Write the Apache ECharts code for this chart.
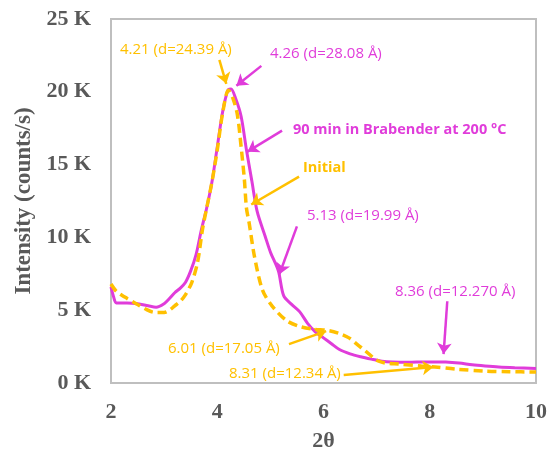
<!DOCTYPE html>
<html>
<head>
<meta charset="utf-8">
<script src="https://cdn.jsdelivr.net/npm/echarts@6/dist/echarts.min.js"></script>
<style>html,body{margin:0;padding:0;background:#fff;}#c{width:550px;height:457px;}</style>
</head>
<body>
<div id="c"></div>
<script>
// 2θ positions and intensities (counts/s)
var xBrab = [2.0,2.05,2.1,2.3,2.5,2.7,2.85,3.0,3.1,3.2,3.3,3.4,3.5,3.6,3.7,3.8,3.9,4.0,4.1,4.2,4.26,4.35,4.45,4.55,4.65,4.75,4.9,5.0,5.15,5.25,5.4,5.55,5.7,5.85,6.0,6.15,6.3,6.5,6.7,6.9,7.1,7.3,7.6,7.9,8.1,8.3,8.55,8.8,9.04,9.3,9.6,10.0];
var yBrab = [6600,5900,5500,5500,5450,5300,5200,5450,5800,6200,6500,6900,7700,8800,10500,12000,13800,16200,18600,20100,20200,19500,18300,16000,13900,11800,10100,9000,7700,6000,5400,4900,4100,3500,3100,2700,2300,2000,1800,1640,1500,1440,1420,1450,1450,1440,1370,1250,1170,1100,1050,1000];
var xInit = [2.0,2.1,2.26,2.45,2.64,2.82,3.0,3.1,3.2,3.3,3.39,3.52,3.63,3.72,3.8,3.9,4.0,4.1,4.21,4.3,4.38,4.45,4.51,4.55,4.6,4.7,4.85,5.03,5.3,5.54,5.8,6.1,6.3,6.48,6.65,6.79,6.95,7.04,7.2,7.41,7.84,8.1,8.5,9.04,9.5,10.0];
var yInit = [6800,6300,5900,5500,5100,4850,4850,5000,5300,5600,6000,6900,8300,10500,12000,13800,16000,18500,20100,19500,18400,16200,14000,12000,11000,8700,6400,5300,4300,3900,3700,3600,3400,3100,2600,2200,1700,1500,1350,1300,1170,1100,950,820,780,750];
var xTicks = [2,4,6,8,10];
var yTicks = [0,5000,10000,15000,20000,25000];

var MAG = '#E03CDA', ORA = '#FFC000';
function zip(a,b){return a.map(function(v,i){return [v,b[i]];});}
// annotation arrows: [x1,y1,x2,y2,color]
var arrows = [
 [4.04,22192,4.17,20548,ORA],
 [4.83,21781,4.36,20411,MAG],
 [5.22,17329,4.57,15890,MAG],
 [5.54,14178,4.64,12260,ORA],
 [5.50,10753,5.17,7466,MAG],
 [5.35,2671,6.05,3562,ORA],
 [6.38,548,8.07,1096,ORA],
 [8.33,5616,8.26,1986,MAG]
];
var labels = [
 ['4.21 (d=24.39 Å)',120,51,ORA,false],
 ['4.26 (d=28.08 Å)',270,55,MAG,false],
 ['90 min in Brabender at 200 °C',293,131,MAG,true],
 ['Initial',303,169,ORA,true],
 ['5.13 (d=19.99 Å)',307,217,MAG,false],
 ['6.01 (d=17.05 Å)',168,350,ORA,false],
 ['8.31 (d=12.34 Å)',229,375,ORA,false],
 ['8.36 (d=12.270 Å)',395,293,MAG,false]
];
var chart = echarts.init(document.getElementById('c'));
var axisFont = {fontFamily:'Liberation Serif', fontWeight:'bold', fontSize:22, color:'#595959'};
chart.setOption({
 animation:false,
 grid:{left:111,right:12,top:19,bottom:73,show:true,borderColor:'#bfbfbf',borderWidth:2},
 xAxis:{type:'value',min:2,max:10,interval:2,
  name:'2θ',nameLocation:'middle',nameGap:47,
  nameTextStyle:{fontFamily:'Liberation Serif',fontWeight:'bold',fontSize:22,color:'#595959'},
  axisLine:{show:true,lineStyle:{color:'#bfbfbf',width:2}},axisTick:{show:false},splitLine:{show:false},
  axisLabel:Object.assign({margin:18},axisFont)},
 yAxis:{type:'value',min:0,max:25000,interval:5000,
  name:'Intensity (counts/s)',nameLocation:'middle',nameGap:72,
  nameTextStyle:{fontFamily:'Liberation Serif',fontWeight:'bold',fontSize:23,color:'#595959'},
  axisLine:{show:true,lineStyle:{color:'#bfbfbf',width:2}},axisTick:{show:false},splitLine:{show:false},
  axisLabel:Object.assign({margin:20,formatter:function(v){return (v/1000)+' K';}},axisFont)},
 series:[
  {type:'line',name:'90 min in Brabender at 200 °C',data:zip(xBrab,yBrab),showSymbol:false,smooth:0.3,
   lineStyle:{color:MAG,width:3},itemStyle:{color:MAG},z:2},
  {type:'line',name:'Initial',data:zip(xInit,yInit),showSymbol:false,smooth:0.3,
   lineStyle:{color:ORA,width:3.5,type:[9,5]},itemStyle:{color:ORA},z:3,
   markLine:{silent:true,symbol:['none','arrow'],symbolSize:11,label:{show:false},animation:false,
    data:arrows.map(function(a){return [{coord:[a[0],a[1]],lineStyle:{color:a[4],width:2.5,type:'solid'}},{coord:[a[2],a[3]]}];})}}
 ],
 graphic:labels.map(function(l){return {type:'text',left:l[1],top:l[2]-9,z:10,
   style:{text:l[0],fill:l[3],font:(l[4]?'bold 14.5px':'15px')+' "Open Sans"',textVerticalAlign:'top'}};})
});
</script>
</body>
</html>
